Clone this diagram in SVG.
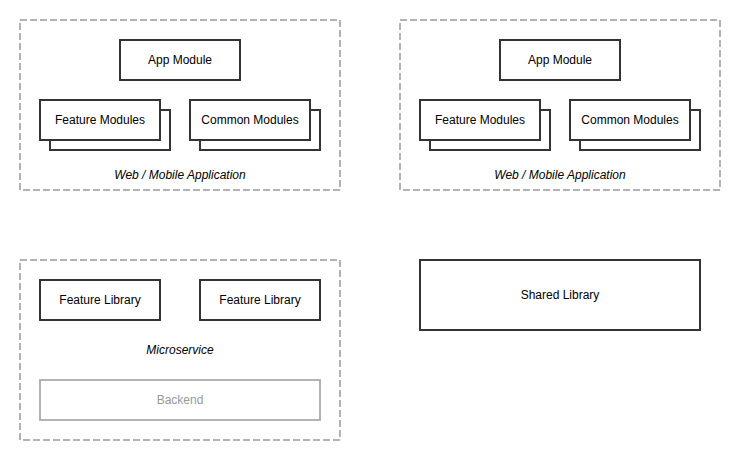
<svg xmlns="http://www.w3.org/2000/svg" width="740" height="460" viewBox="0 0 740 460">
<style>
.grp{fill:none;stroke:#b3b3b3;stroke-width:2;stroke-dasharray:7 3}
.box{fill:#fff;stroke:#333;stroke-width:2}
.gbox{fill:#fff;stroke:#b3b3b3;stroke-width:2}
text{font-family:"Liberation Sans",Arial,Helvetica,sans-serif;font-size:12px;fill:#000;text-anchor:middle;dominant-baseline:central}
.it{font-style:italic}
.gt{fill:#999}
</style>
<rect width="740" height="460" fill="#fff"/>
<g id="web1">
<rect class="grp" x="20" y="20" width="320" height="170"/>
<text class="it" x="180" y="175">Web / Mobile Application</text>
</g>
<g id="app1"><rect class="box" x="120" y="40" width="120" height="40"/><text x="180" y="60">App Module</text></g>
<g id="feat1"><rect class="box" x="50" y="110" width="120" height="40"/><rect class="box" x="40" y="100" width="120" height="40"/><text x="100" y="120">Feature Modules</text></g>
<g id="common1"><rect class="box" x="200" y="110" width="120" height="40"/><rect class="box" x="190" y="100" width="120" height="40"/><text x="250" y="120">Common Modules</text></g>
<g id="web2">
<rect class="grp" x="400" y="20" width="320" height="170"/>
<text class="it" x="560" y="175">Web / Mobile Application</text>
</g>
<g id="app2"><rect class="box" x="500" y="40" width="120" height="40"/><text x="560" y="60">App Module</text></g>
<g id="feat2"><rect class="box" x="430" y="110" width="120" height="40"/><rect class="box" x="420" y="100" width="120" height="40"/><text x="480" y="120">Feature Modules</text></g>
<g id="common2"><rect class="box" x="580" y="110" width="120" height="40"/><rect class="box" x="570" y="100" width="120" height="40"/><text x="630" y="120">Common Modules</text></g>
<g id="micro">
<rect class="grp" x="20" y="260" width="320" height="180"/>
<text class="it" x="180" y="350">Microservice</text>
</g>
<g id="flib1"><rect class="box" x="40" y="280" width="120" height="40"/><text x="100" y="300">Feature Library</text></g>
<g id="flib2"><rect class="box" x="200" y="280" width="120" height="40"/><text x="260" y="300">Feature Library</text></g>
<g id="backend"><rect class="gbox" x="40" y="380" width="280" height="40"/><text class="gt" x="180" y="400">Backend</text></g>
<g id="shared"><rect class="box" x="420" y="260" width="280" height="70"/><text x="560" y="295">Shared Library</text></g>
<g id="connectors"></g>
</svg>
